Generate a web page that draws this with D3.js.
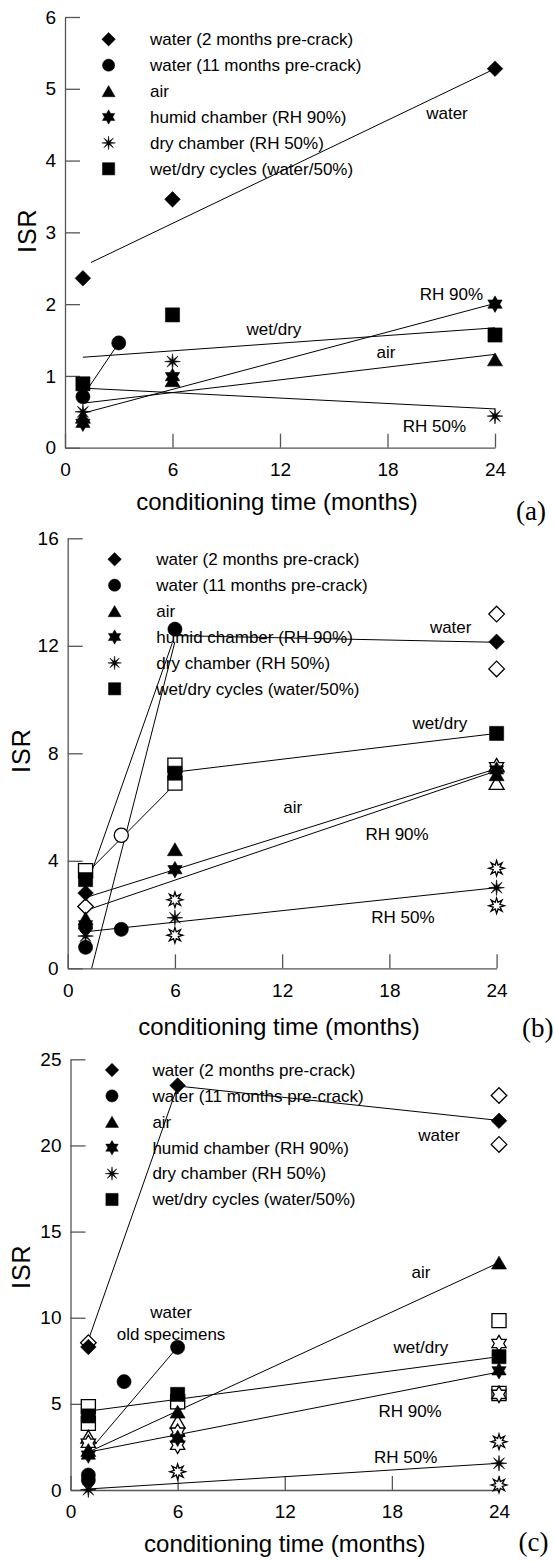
<!DOCTYPE html>
<html><head><meta charset="utf-8">
<script src="https://cdn.jsdelivr.net/npm/d3@7"></script>
<style>body{margin:0;background:#fff}svg{display:block}</style>
</head><body>
<svg id="chart" width="554" height="1562"></svg>
<script>
// ================= DATA =================
const xTicks = [0, 6, 12, 18, 24];
const yTicksA = [0, 1, 2, 3, 4, 5, 6];
const yTicksB = [0, 4, 8, 12, 16];
const yTicksC = [0, 5, 10, 15, 20, 25];
const legendLabels = ["water (2 months pre-crack)", "water (11 months pre-crack)", "air",
  "humid chamber (RH 90%)", "dry chamber (RH 50%)", "wet/dry cycles (water/50%)"];
const legendShapes = ["diamond", "circle", "triangle", "star6", "asterisk", "square"];
const xTitle = "conditioning time (months)";
const yTitle = "ISR";

// ---- panel (a) : [month, ISR] ----
const aWater2 = [[1, 2.36], [6, 3.46], [24, 5.28]];
const aWater11 = [[1, 0.71], [3, 1.46]];
const aAir = [[1, 0.43], [6, 0.94], [24, 1.23]];
const aHumid = [[1, 0.34], [6, 0.99], [24, 2.0]];
const aDry = [[1, 0.5], [6, 1.2], [24, 0.44]];
const aWetDry = [[1, 0.89], [6, 1.85], [24, 1.57]];
const aFitLines = [
  [[1.45, 2.58], [24, 5.28]],
  [[1, 0.72], [3, 1.46]],
  [[1, 0.62], [24, 1.30]],
  [[1, 0.48], [24, 2.01]],
  [[1, 0.83], [24, 0.54]],
  [[1, 1.26], [24, 1.67]]
];
const aNotes = ["water", "RH 90%", "wet/dry", "air", "RH 50%"];

// ---- panel (b) ----
const bWater2 = [[1, 2.8], [24, 12.15]];
const bWater2Open = [[1, 2.3], [24, 13.18], [24, 11.14]];
const bWater11 = [[1, 1.55], [1, 0.78], [3, 1.45], [6, 12.62]];
const bWater11Open = [[3, 4.95]];
const bAir = [[1, 1.86], [6, 4.43], [24, 7.22]];
const bAirOpen = [[24, 7.55], [24, 6.9]];
const bHumid = [[1, 1.62], [6, 3.67], [24, 7.38]];
const bHumidOpen = [[24, 7.5]];
const bDry = [[1, 1.2], [6, 1.88], [24, 3.0]];
const bDryOpen = [[6, 2.55], [6, 1.23], [24, 3.72], [24, 2.33]];
const bWetDry = [[1, 3.3], [6, 7.26], [24, 8.74]];
const bWetDryOpen = [[1, 3.63], [6, 7.56], [6, 6.89]];
const bFitLines = [
  [[1, 2.95], [5.85, 12.1]],
  [[1.34, 0], [6, 12.15]],
  [[1, 3.5], [6, 6.85]],
  [[6, 7.3], [24, 8.74]],
  [[6, 12.38], [24, 12.13]],
  [[1, 2.63], [24, 7.43]],
  [[1, 2.15], [24, 7.35]],
  [[1, 1.36], [24, 3.0]]
];
const bNotes = ["water", "wet/dry", "air", "RH 90%", "RH 50%"];

// ---- panel (c) ----
const cWater2 = [[1, 8.3], [6, 23.48], [24, 21.43]];
const cWater2Open = [[1, 8.55], [24, 22.9], [24, 20.06]];
const cWater11 = [[1, 0.87], [1, 0.58], [3, 6.29], [6, 8.28]];
const cAir = [[1, 2.32], [6, 4.55], [24, 13.2]];
const cAirOpen = [[1, 3.09], [6, 3.97]];
const cHumid = [[1, 2.03], [6, 3.0], [24, 6.92]];
const cHumidOpen = [[1, 2.71], [6, 3.35], [6, 2.6], [24, 8.5], [24, 5.55]];
const cDry = [[1, 0.02], [24, 1.55]];
const cDryOpen = [[6, 1.06], [24, 2.8], [24, 0.29]];
const cWetDry = [[1, 4.3], [6, 5.55], [24, 7.74]];
const cWetDryOpen = [[1, 4.84], [1, 3.87], [6, 5.12], [24, 9.83], [24, 5.6]];
const cFitLines = [
  [[1, 8.7], [6, 23.45]],
  [[6, 23.45], [24, 21.45]],
  [[1, 2.2], [6, 8.3]],
  [[1, 2.2], [24, 13.2]],
  [[1, 4.58], [24, 7.74]],
  [[1, 2.2], [24, 6.85]],
  [[1, 0.06], [24, 1.55]]
];
const cNotes = ["water", "air", "water", "old specimens", "wet/dry", "RH 90%", "RH 50%"];

// ================= LAYOUT =================
const FONT = "'Liberation Sans', Arial, sans-serif";
const SERIF = "'Liberation Serif', 'Times New Roman', serif";
const svg = d3.select("#chart");

function shapePath(type, s) {
  const p = d3.path();
  if (type === "square") {
    const h = s * 0.47; p.rect(-h, -h, 2 * h, 2 * h);
  } else if (type === "diamond") {
    const h = s * 0.52; p.moveTo(0, -h); p.lineTo(h, 0); p.lineTo(0, h); p.lineTo(-h, 0); p.closePath();
  } else if (type === "circle") {
    p.arc(0, 0, s * 0.47, 0, 2 * Math.PI);
  } else if (type === "triangle") {
    const w = s * 0.5, h = s * 0.86;
    p.moveTo(0, -h / 2); p.lineTo(w, h / 2); p.lineTo(-w, h / 2); p.closePath();
  } else if (type === "star6" || type === "asterisk" || type === "asteriskOpen") {
    let n, R, r;
    if (type === "star6") { n = 6; R = s * 0.55; r = R / Math.sqrt(3); }
    else if (type === "asterisk") { n = 8; R = s * 0.52; r = s * 0.13; }
    else { n = 8; R = s * 0.52; r = s * 0.24; }
    for (let i = 0; i < 2 * n; i++) {
      const a = -Math.PI / 2 + i * Math.PI / n;
      const rr = i % 2 === 0 ? R : r;
      const px = rr * Math.cos(a), py = rr * Math.sin(a);
      if (i === 0) p.moveTo(px, py); else p.lineTo(px, py);
    }
    p.closePath();
  }
  return p.toString();
}

function drawPanel(cfg) {
  const g = svg.append("g");
  const x = d3.scaleLinear().domain([0, 24]).range([cfg.left, cfg.right]);
  const y = d3.scaleLinear().domain([0, cfg.ymax]).range([cfg.bottom, cfg.top]);

  // axes
  const ax = g.append("g").attr("transform", `translate(0,${cfg.bottom})`)
    .call(d3.axisBottom(x).tickValues(xTicks).tickFormat(d3.format("d"))
      .tickSizeInner(-14).tickSizeOuter(0).tickPadding(15));
  const ay = g.append("g").attr("transform", `translate(${cfg.left},0)`)
    .call(d3.axisLeft(y).tickValues(cfg.yTicks).tickFormat(d3.format("d"))
      .tickSizeInner(-15).tickSizeOuter(0).tickPadding(9));
  [ax, ay].forEach(a => {
    a.select(".domain").attr("stroke", "#555").attr("stroke-width", 1.3);
    a.selectAll(".tick line").attr("stroke", "#555").attr("stroke-width", 1.3);
    a.selectAll(".tick text").attr("fill", "#000").style("font-family", FONT).style("font-size", "19px");
  });

  // legend
  const lg = g.append("g");
  legendLabels.forEach((lab, i) => {
    const ly = cfg.legend.y0 + i * 25.9;
    lg.append("path").attr("d", shapePath(legendShapes[i], 13))
      .attr("transform", `translate(${cfg.legend.mx},${ly})`).attr("fill", "#000").attr("stroke", "#000").attr("stroke-width", 0.5);
    lg.append("text").attr("x", cfg.legend.tx).attr("y", ly + 5.8).text(lab)
      .style("font-family", FONT).style("font-size", "17px").attr("fill", "#000");
  });

  // fit lines
  const line = d3.line().x(d => x(d[0])).y(d => y(d[1]));
  g.append("g").selectAll("path").data(cfg.lines).join("path")
    .attr("d", line).attr("fill", "none").attr("stroke", "#000").attr("stroke-width", 1);

  // open markers first, then filled ones
  const mg = g.append("g");
  cfg.open.forEach(([shape, pts]) => {
    mg.append("g").selectAll("path").data(pts).join("path")
      .attr("d", shapePath(shape === "asterisk" ? "asteriskOpen" : shape, 15))
      .attr("transform", d => `translate(${x(d[0])},${y(d[1])})`)
      .attr("fill", "#fff").attr("stroke", "#000").attr("stroke-width", 1.3);
  });
  cfg.filled.forEach(([shape, pts]) => {
    mg.append("g").selectAll("path").data(pts).join("path")
      .attr("d", shapePath(shape, 15))
      .attr("transform", d => `translate(${x(d[0])},${y(d[1])})`)
      .attr("fill", "#000").attr("stroke", "#000").attr("stroke-width", 0.6);
  });

  // in-plot notes
  cfg.notes.forEach((t, i) => {
    const pos = cfg.notePos[i];
    g.append("text").attr("x", x(pos[0])).attr("y", y(pos[1])).attr("text-anchor", "middle")
      .text(t).style("font-family", FONT).style("font-size", "17px").attr("fill", "#000");
  });

  // titles
  g.append("text").attr("x", cfg.title[0]).attr("y", cfg.title[1]).attr("text-anchor", "middle")
    .text(xTitle).style("font-family", FONT).style("font-size", "24px").attr("fill", "#000");
  g.append("text").attr("transform", `translate(${cfg.isr[0]},${cfg.isr[1]}) rotate(-90)`)
    .attr("text-anchor", "middle").attr("dominant-baseline", "central")
    .text(yTitle).style("font-family", FONT).style("font-size", "25px").style("letter-spacing", "1px").attr("fill", "#000");
  g.append("text").attr("x", cfg.tag[0]).attr("y", cfg.tag[1]).text(cfg.tagText)
    .style("font-family", SERIF).style("font-size", "27px").attr("fill", "#000");
}

drawPanel({
  left: 65, right: 495, top: 17, bottom: 447.7, ymax: 6, yTicks: yTicksA,
  legend: { mx: 108.6, tx: 150, y0: 39.3 },
  lines: aFitLines,
  open: [],
  filled: [["diamond", aWater2], ["circle", aWater11], ["triangle", aAir], ["star6", aHumid], ["asterisk", aDry], ["square", aWetDry]],
  notes: aNotes,
  notePos: [[21.32, 4.575], [21.57, 2.058], [11.66, 1.57], [17.92, 1.245], [20.62, 0.223]],
  title: [277, 510], isr: [26.5, 230.7], tag: [516, 519.5], tagText: "(a)"
});

drawPanel({
  left: 67.7, right: 496.6, top: 538.3, bottom: 968.3, ymax: 16, yTicks: yTicksB,
  legend: { mx: 114.6, tx: 156.3, y0: 559.3 },
  lines: bFitLines,
  open: [["square", bWetDryOpen], ["diamond", bWater2Open], ["circle", bWater11Open], ["triangle", bAirOpen], ["star6", bHumidOpen], ["asterisk", bDryOpen]],
  filled: [["diamond", bWater2], ["circle", bWater11], ["triangle", bAir], ["star6", bHumid], ["asterisk", bDry], ["square", bWetDry]],
  notes: bNotes,
  notePos: [[21.43, 12.47], [20.83, 8.9], [12.59, 5.77], [18.43, 4.77], [18.76, 1.67]],
  title: [279, 1035], isr: [21, 750.6], tag: [522, 1037], tagText: "(b)"
});

drawPanel({
  left: 70.5, right: 499, top: 1059.3, bottom: 1490, ymax: 25, yTicks: yTicksC,
  legend: { mx: 112, tx: 152.4, y0: 1070 },
  lines: cFitLines,
  open: [["square", cWetDryOpen], ["diamond", cWater2Open], ["triangle", cAirOpen], ["star6", cHumidOpen], ["asterisk", cDryOpen]],
  filled: [["diamond", cWater2], ["circle", cWater11], ["triangle", cAir], ["star6", cHumid], ["asterisk", cDry], ["square", cWetDry]],
  notes: cNotes,
  notePos: [[20.64, 20.26], [19.63, 12.3], [5.63, 9.97], [5.63, 8.71], [19.63, 7.97], [19.02, 4.25], [18.77, 1.55]],
  title: [284.8, 1551.5], isr: [21, 1266.7], tag: [518.5, 1551], tagText: "(c)"
});
</script>
</body></html>
